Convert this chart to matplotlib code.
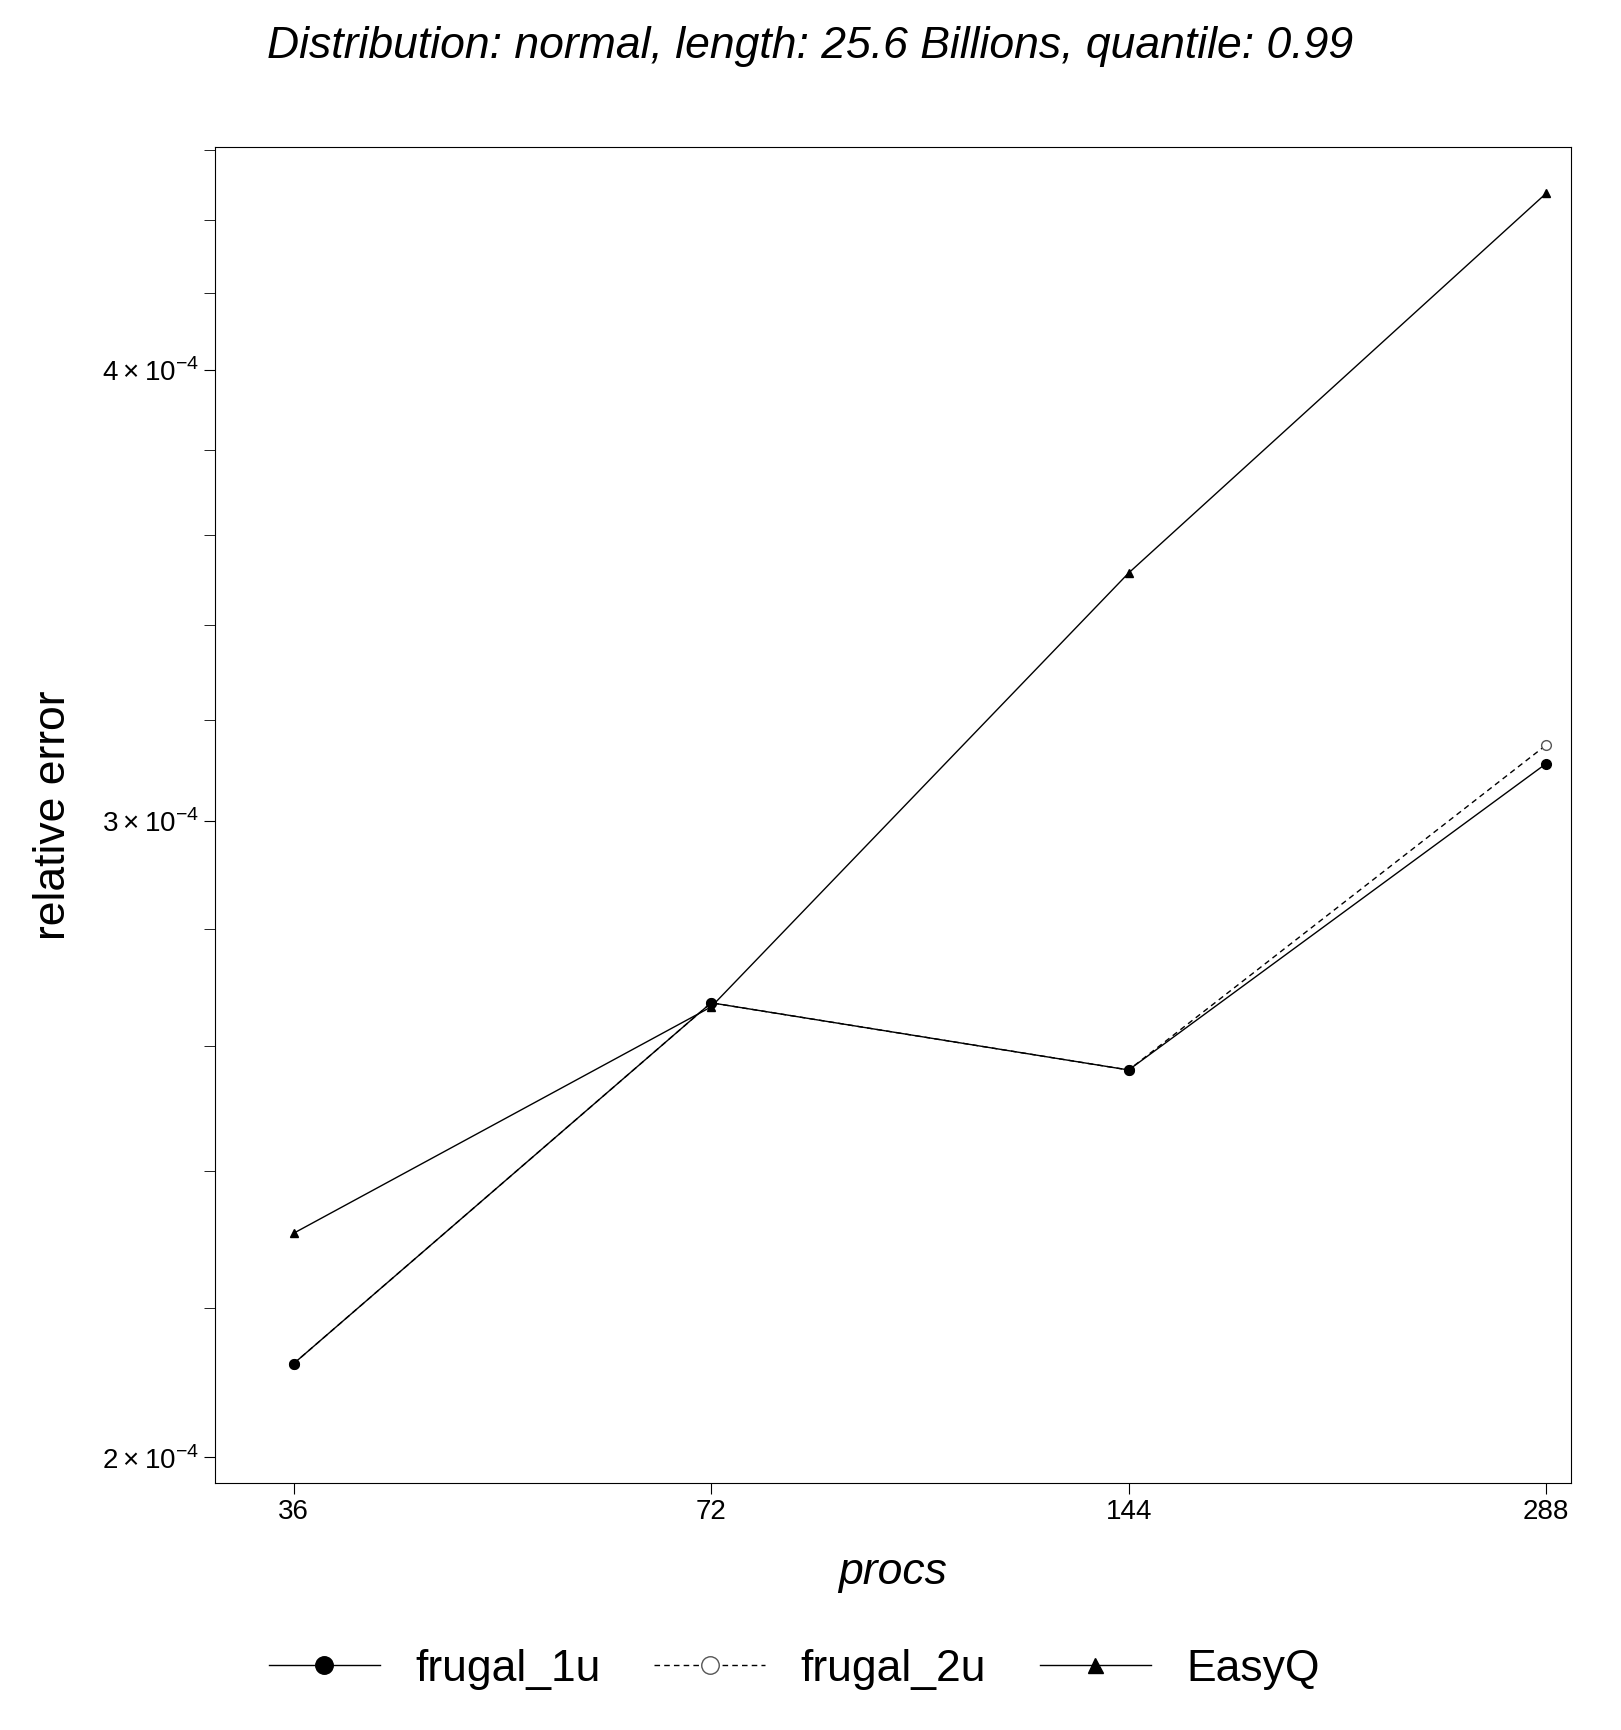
import matplotlib
matplotlib.use("Agg")
import matplotlib.pyplot as plt
from matplotlib.ticker import FixedLocator, NullFormatter

plt.rcParams['font.family'] = ['Liberation Sans', 'DejaVu Sans']
plt.rcParams['mathtext.fontset'] = 'custom'
plt.rcParams['mathtext.rm'] = 'Liberation Sans'

procs = [36, 72, 144, 288]
frugal_1u = [2.123e-4, 2.672e-4, 2.560e-4, 3.112e-4]
frugal_2u = [2.123e-4, 2.672e-4, 2.560e-4, 3.149e-4]
easyq = [2.307e-4, 2.665e-4, 3.514e-4, 4.476e-4]
yticks = [2e-4, 3e-4, 4e-4]
ytick_labels = [r"$2\times10^{-4}$", r"$3\times10^{-4}$", r"$4\times10^{-4}$"]
yminor = [2.2e-4, 2.4e-4, 2.6e-4, 2.8e-4, 3.2e-4, 3.4e-4, 3.6e-4, 3.8e-4, 4.2e-4, 4.4e-4, 4.6e-4]

fig = plt.figure(figsize=(16.21, 17.30), dpi=100)
ax = fig.add_axes([0.1327, 0.143, 0.8363, 0.772])
l2, = ax.plot(procs, frugal_2u, 'k--', lw=1, marker='o', ms=7, mfc='white', mec='#555555',
              label='frugal_2u', dashes=(4, 3), zorder=2)
l1, = ax.plot(procs, frugal_1u, 'k-', lw=1, marker='o', ms=7, label='frugal_1u', zorder=3)
l3, = ax.plot(procs, easyq, 'k-', lw=1, marker='^', ms=6, label='EasyQ', zorder=3)
ax.set_xscale('log', base=2)
ax.set_yscale('log')
ax.set_xlim(31.6, 300)
ax.set_ylim(1.968e-4, 4.61e-4)
ax.set_xticks(procs)
ax.set_xticklabels([str(p) for p in procs])
ax.xaxis.set_minor_locator(FixedLocator([]))
ax.yaxis.set_major_locator(FixedLocator(yticks))
ax.set_yticklabels(ytick_labels)
ax.yaxis.set_minor_locator(FixedLocator(yminor))
ax.yaxis.set_minor_formatter(NullFormatter())
ax.tick_params(axis='both', which='major', labelsize=20, length=8)
ax.tick_params(axis='y', which='minor', length=8)
ax.set_xlabel('procs', fontsize=32, style='italic', labelpad=20)
ax.set_ylabel('relative error', fontsize=32, labelpad=20)
fig.suptitle('Distribution: normal, length: 25.6 Billions, quantile: 0.99', fontsize=32, style='italic', y=0.985)
fig.legend([l1, l2, l3], ['frugal_1u', 'frugal_2u', 'EasyQ'], loc='lower center', ncol=3, fontsize=32,
           frameon=False, bbox_to_anchor=(0.49, 0.0), markerscale=1.8, handlelength=2.5, columnspacing=1.2)
fig.savefig('out.png')
